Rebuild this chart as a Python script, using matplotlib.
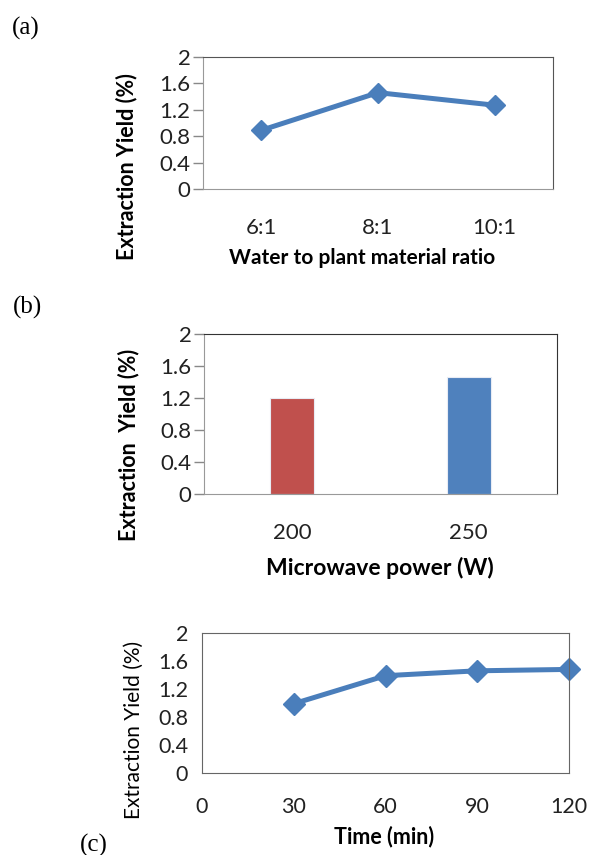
import matplotlib
matplotlib.use("Agg")
import matplotlib.pyplot as plt

plt.rcParams['font.family'] = ['Lato', 'DejaVu Sans']

# (a) water to plant material ratio
ratio_labels = ["6:1", "8:1", "10:1"]
ratio_yield = [0.89, 1.46, 1.27]

# (b) microwave power
power_labels = ["200", "250"]
power_yield = [1.20, 1.46]
power_colors = ["#C0504D", "#4F81BD"]

# (c) extraction time
time_min = [30, 60, 90, 120]
time_yield = [0.99, 1.39, 1.46, 1.48]

yticks = [0, 0.4, 0.8, 1.2, 1.6, 2]
ytick_labels = ["0", "0.4", "0.8", "1.2", "1.6", "2"]
xticks_c = [0, 30, 60, 90, 120]

W, H = 589, 855
line_blue = "#4A7EBB"

fig = plt.figure(figsize=(W / 100, H / 100), dpi=100)


def fx(px):
    return px / W


def fy(py):
    return 1 - py / H


def add_axes(l, t, r, b):
    return fig.add_axes([fx(l), fy(b), fx(r) - fx(l), fy(t) - fy(b)])


# ---- (a) ----
ax1 = add_axes(203, 57, 553, 189)
ax1.plot(range(len(ratio_yield)), ratio_yield, color=line_blue, lw=3.6,
         marker="D", ms=10.5, clip_on=False)
ax1.set_xlim(-0.5, len(ratio_labels) - 0.5)
ax1.set_ylim(0, 2)
ax1.set_yticks(yticks)
ax1.set_yticklabels(ytick_labels)
ax1.set_xticks(range(len(ratio_labels)))
ax1.set_xticklabels(ratio_labels)
ax1.tick_params(axis="y", direction="out", length=7, width=1, color="#888888",
                pad=2, labelsize=16, labelcolor="#222222")
ax1.tick_params(axis="x", length=0, pad=21, labelsize=16, labelcolor="#222222")
for s in ["top", "right"]:
    ax1.spines[s].set_color("#555555")
for s in ["left", "bottom"]:
    ax1.spines[s].set_color("#999999")
ax1.set_xlabel("Water to plant material ratio", fontsize=15, fontweight="bold")
ax1.xaxis.set_label_coords(fx(362), fy(258), transform=fig.transFigure)
ax1.xaxis.label.set_va("center")
ax1.set_ylabel("Extraction Yield (%)", fontsize=15.5, fontweight="bold")
ax1.yaxis.set_label_coords(fx(127), fy(167), transform=fig.transFigure)
ax1.yaxis.label.set_va("center")

# ---- (b) ----
ax2 = add_axes(204, 334, 557, 494)
ax2.bar(range(len(power_yield)), power_yield, width=0.25, color=power_colors,
        edgecolor="#E8ECF4", linewidth=0.8)
ax2.set_xlim(-0.5, len(power_labels) - 0.5)
ax2.set_ylim(0, 2)
ax2.set_yticks(yticks)
ax2.set_yticklabels(ytick_labels)
ax2.set_xticks(range(len(power_labels)))
ax2.set_xticklabels(power_labels)
ax2.tick_params(axis="y", direction="out", length=7, width=1, color="#888888",
                pad=2, labelsize=16, labelcolor="#222222")
ax2.tick_params(axis="x", length=0, pad=21, labelsize=16, labelcolor="#222222")
for s in ["top", "right"]:
    ax2.spines[s].set_color("#333333")
for s in ["left", "bottom"]:
    ax2.spines[s].set_color("#999999")
ax2.set_xlabel("Microwave power (W)", fontsize=16.5, fontweight="bold")
ax2.xaxis.set_label_coords(fx(380), fy(568), transform=fig.transFigure)
ax2.xaxis.label.set_va("center")
ax2.set_ylabel("Extraction  Yield (%)", fontsize=15.5, fontweight="bold")
ax2.yaxis.set_label_coords(fx(129), fy(445), transform=fig.transFigure)
ax2.yaxis.label.set_va("center")

# ---- (c) ----
ax3 = add_axes(202, 633, 569, 773)
ax3.plot(time_min, time_yield, color=line_blue, lw=3.6, marker="D", ms=11,
         clip_on=False)
ax3.set_xlim(0, 120)
ax3.set_ylim(0, 2)
ax3.set_yticks(yticks)
ax3.set_yticklabels(ytick_labels)
ax3.set_xticks(xticks_c)
ax3.tick_params(axis="y", length=0, pad=10, labelsize=15.5, labelcolor="#222222")
ax3.tick_params(axis="x", length=0, pad=17, labelsize=15.5, labelcolor="#222222")
for s in ax3.spines.values():
    s.set_color("#666666")
ax3.set_xlabel("Time (min)", fontsize=15.5, fontweight="bold")
ax3.xaxis.set_label_coords(fx(384), fy(837), transform=fig.transFigure)
ax3.xaxis.label.set_va("center")
ax3.set_ylabel("Extraction Yield (%)", fontsize=15)
ax3.yaxis.set_label_coords(fx(134), fy(730), transform=fig.transFigure)
ax3.yaxis.label.set_va("center")

# panel letters
for letter, px, py in [("(a)", 26, 28), ("(b)", 27, 307), ("(c)", 94, 845)]:
    fig.text(fx(px), fy(py), letter, family="Liberation Serif", fontsize=18,
             ha="center", va="center")

fig.savefig("out.png", dpi=100)
